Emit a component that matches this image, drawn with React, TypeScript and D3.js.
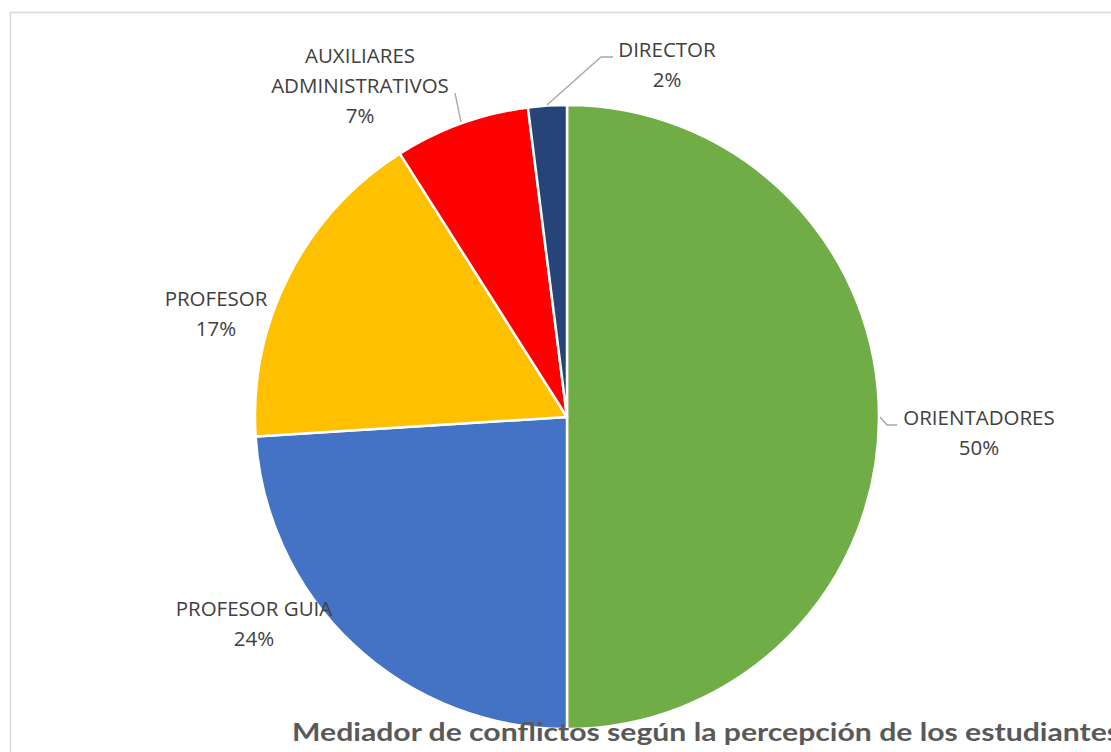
import React from "react";
import * as d3 from "d3";

const categories = ["ORIENTADORES", "PROFESOR GUIA", "PROFESOR", "AUXILIARES ADMINISTRATIVOS", "DIRECTOR"];
const values = [50, 24, 17, 7, 2];
const colors = ["#70AD47", "#4472C4", "#FFC000", "#FF0000", "#264478"];
const labelLines = [["ORIENTADORES"], ["PROFESOR GUIA"], ["PROFESOR"], ["AUXILIARES", "ADMINISTRATIVOS"], ["DIRECTOR"]];
const title = "Mediador de conflictos según la percepción de los estudiantes";

// layout
const W = 1111, H = 752;
const cx = 567, cy = 417, R = 312;
const labelPos = [
  { x: 979, y: 425 },
  { x: 254, y: 616 },
  { x: 216, y: 306 },
  { x: 360, y: 63 },
  { x: 667, y: 57 },
];
const leaders: (number[][] | null)[] = [
  [[880, 417], [887, 425], [897, 425]],
  null,
  null,
  [[461, 122], [455, 93]],
  [[547, 105], [601, 57], [613, 57]],
];

export default function App() {
  const pie = d3.pie<number>().value((d) => d).sort(null);
  const arcs = pie(values);
  const arc = d3.arc<d3.PieArcDatum<number>>().innerRadius(0).outerRadius(R);
  const total = d3.sum(values);
  return (
    <svg width={W} height={H} style={{ position: "absolute", left: 0, top: 0 }}>
      <rect x={0} y={0} width={W} height={H} fill="#fff" />
      <rect x={10.5} y={12.5} width={W + 20} height={H + 20} fill="none" stroke="#D9D9D9" strokeWidth={1.5} />
      <g transform={`translate(${cx},${cy})`}>
        {arcs.map((a, i) => (
          <path key={i} d={arc(a) || ""} fill={colors[i]} stroke="#fff" strokeWidth={2.5} strokeLinejoin="round" />
        ))}
      </g>
      {leaders.map((l, i) =>
        l ? (
          <polyline key={i} points={l.map((p) => p.join(",")).join(" ")} fill="none" stroke="#A6A6A6" strokeWidth={1.3} />
        ) : null
      )}
      {categories.map((c, i) => {
        const lines = [...labelLines[i], `${Math.round((values[i] / total) * 100)}%`];
        return (
          <text key={c} x={labelPos[i].x} y={labelPos[i].y} textAnchor="middle" fontFamily="'Open Sans', sans-serif" fontSize={20.5} fill="#404040">
            {lines.map((t, j) => (
              <tspan key={j} x={labelPos[i].x} dy={j === 0 ? 0 : 30}>{t}</tspan>
            ))}
          </text>
        );
      })}
      <text x={292} y={741} fontFamily="Lato, 'Open Sans', sans-serif" fontWeight="bold" fontSize={25} fill="#595959" textLength={828} lengthAdjust="spacingAndGlyphs">
        {title}
      </text>
    </svg>
  );
}
